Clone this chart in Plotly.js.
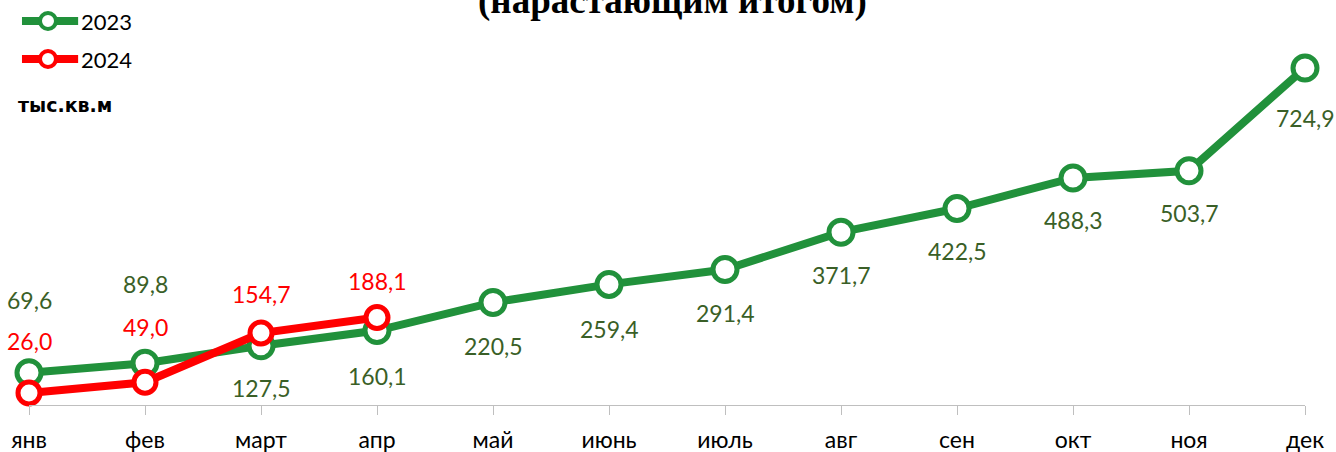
<!DOCTYPE html>
<html>
<head>
<meta charset="utf-8">
<script src="https://cdn.plot.ly/plotly-3.0.1.min.js"></script>
<style>html,body{margin:0;padding:0;background:#fff;}#chart{width:1336px;height:452px;}</style>
</head>
<body>
<div id="chart"></div>
<script>
const months = ['янв','фев','март','апр','май','июнь','июль','авг','сен','окт','ноя','дек'];
const values2023 = [69.6, 89.8, 127.5, 160.1, 220.5, 259.4, 291.4, 371.7, 422.5, 488.3, 503.7, 724.9];
const values2024 = [26.0, 49.0, 154.7, 188.1];
const labelShift2023 = [73, 79, -42, -45, -44, -45, -43, -43, -42, -42, -42, -50];
const labelShift2024 = [52, 55, 39, 37];

const green = '#21913b';
const red = '#ff0000';
const greenLabel = '#3a5f27';
const font = 'Lato, "Noto Sans", sans-serif';

const fmt = v => v.toFixed(1).replace('.', ',');
const xs = months.map((m, i) => i);

const traces = [
  {x: xs, y: values2023, name: '2023', type: 'scatter', mode: 'lines+markers',
   line: {color: green, width: 8}, marker: {size: 24, color: '#fff', line: {color: green, width: 5}},
   cliponaxis: false, showlegend: false},
  {x: xs.slice(0, values2024.length), y: values2024, name: '2024', type: 'scatter', mode: 'lines+markers',
   line: {color: red, width: 8}, marker: {size: 22, color: '#fff', line: {color: red, width: 5}},
   cliponaxis: false, showlegend: false}
];

const annotations = [];
values2023.forEach((v, i) => annotations.push({x: i, y: v, xref: 'x', yref: 'y', text: fmt(v), showarrow: false,
  yshift: labelShift2023[i], font: {family: font, size: 23, color: greenLabel}}));
values2024.forEach((v, i) => annotations.push({x: i, y: v, xref: 'x', yref: 'y', text: fmt(v), showarrow: false,
  yshift: labelShift2024[i], font: {family: font, size: 23, color: red}}));

// title (its upper part is cut off at the top edge in the reference)
annotations.push({xref: 'paper', yref: 'paper', x: 0.504, y: 1, yanchor: 'bottom', yshift: 9, showarrow: false,
  text: '<b>(нарастающим итогом)</b>', font: {family: '"Liberation Serif", "DejaVu Serif", serif', size: 37, color: '#000'}});
// legend text
annotations.push({xref: 'paper', yref: 'paper', x: 0.0395, y: 1, xanchor: 'left', yanchor: 'middle', yshift: 12,
  showarrow: false, text: '2023', font: {family: font, size: 22, color: '#000'}});
annotations.push({xref: 'paper', yref: 'paper', x: 0.0395, y: 1, xanchor: 'left', yanchor: 'middle', yshift: -26,
  showarrow: false, text: '2024', font: {family: font, size: 22, color: '#000'}});
// unit label
annotations.push({xref: 'paper', yref: 'paper', x: -0.0105, y: 1, xanchor: 'left', yanchor: 'middle', yshift: -72,
  showarrow: false, text: '<b>тыс.кв.м</b>', font: {family: '"DejaVu Sans", sans-serif', size: 19, color: '#000'}});

const shapes = [];
[[green, 21], [red, 59]].forEach(([c, yy]) => {
  shapes.push({type: 'line', xref: 'paper', yref: 'paper', x0: -0.0055, x1: 0.0385, y0: (405 - yy) / 372, y1: (405 - yy) / 372,
    line: {color: c, width: 8}, layer: 'above'});
  shapes.push({type: 'circle', xref: 'paper', yref: 'paper', x0: (48 - 29 - 8) / 1276, x1: (48 - 29 + 8) / 1276,
    y0: (405 - yy - 8) / 372, y1: (405 - yy + 8) / 372, fillcolor: '#fff', line: {color: c, width: 4}, layer: 'above'});
});

const layout = {
  width: 1336, height: 452,
  margin: {l: 29, r: 31, t: 33, b: 47},
  paper_bgcolor: '#fff', plot_bgcolor: '#fff',
  showlegend: false,
  xaxis: {range: [0, 11], tickvals: xs, ticktext: months, showgrid: false, zeroline: false,
    showline: true, linecolor: '#bfbfbf', linewidth: 1, ticks: 'outside', ticklen: 9, tickcolor: '#bfbfbf',
    ticklabelstandoff: 5,
    tickfont: {family: font, size: 23, color: '#000'}, fixedrange: true},
  yaxis: {range: [0, 800], visible: false, showgrid: false, zeroline: false, fixedrange: true},
  annotations, shapes
};

Plotly.newPlot('chart', traces, layout, {displayModeBar: false, staticPlot: true});
</script>
</body>
</html>
